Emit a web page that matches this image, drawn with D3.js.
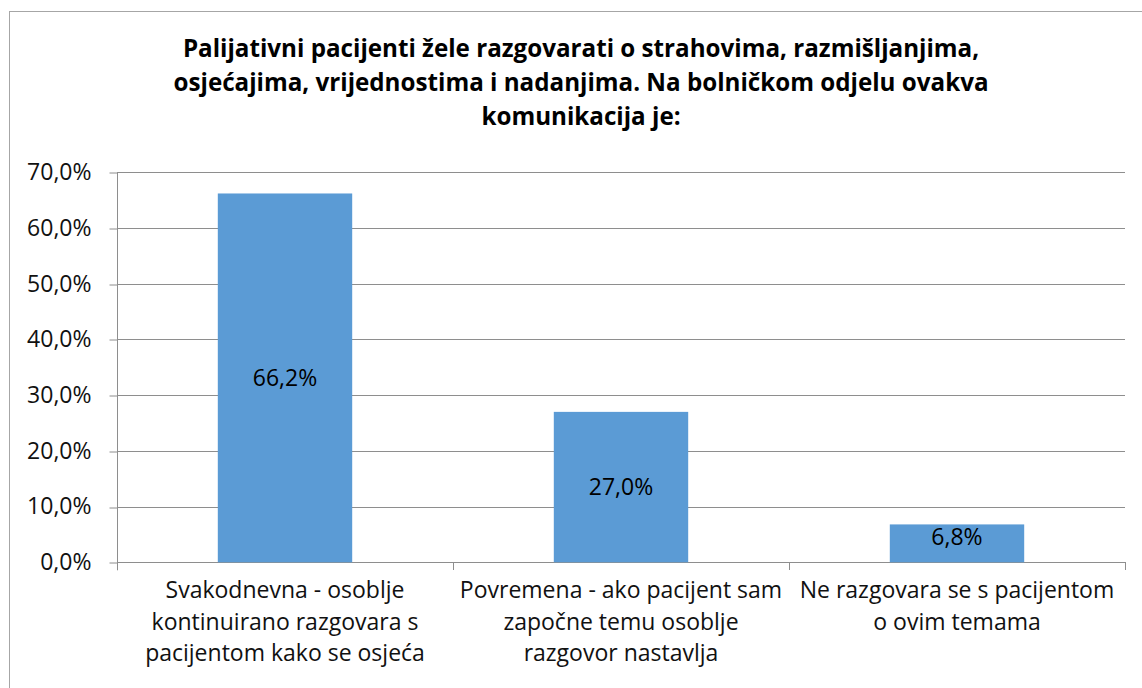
<!DOCTYPE html>
<html>
<head>
<meta charset="utf-8">
<script src="https://cdn.jsdelivr.net/npm/d3@7"></script>
<style>
  html, body { margin: 0; padding: 0; background: #fff; }
  svg { display: block; font-family: "Open Sans", Lato, sans-serif; }
</style>
</head>
<body>
<div id="chart"></div>
<script>
// chart data
const titleLines = [
    "Palijativni pacijenti žele razgovarati o strahovima, razmišljanjima,",
    "osjećajima, vrijednostima i nadanjima. Na bolničkom odjelu ovakva",
    "komunikacija je:"
];
const categories = ["Svakodnevna", "Povremena", "Ne razgovara"];
const categoryLabels = [
    ["Svakodnevna - osoblje", "kontinuirano razgovara s", "pacijentom kako se osjeća"],
    ["Povremena - ako pacijent sam", "započne temu osoblje", "razgovor nastavlja"],
    ["Ne razgovara se s pacijentom", "o ovim temama"]
];
const values = [66.2, 27.0, 6.8];
const yTicks = [0, 10, 20, 30, 40, 50, 60, 70];

const width = 1142, height = 688;
const margin = { top: 172.3, right: 17, bottom: 125.7, left: 117 };

const fmt = v => v.toFixed(1).replace(".", ",") + "%";

const svg = d3.select("#chart")
    .append("svg")
    .attr("width", width)
    .attr("height", height);

// chart border (runs off the right and bottom of the picture)
svg.append("rect")
    .attr("x", 9.5)
    .attr("y", 11.5)
    .attr("width", 1200)
    .attr("height", 800)
    .attr("fill", "none")
    .attr("stroke", "#a6a6a6")
    .attr("stroke-width", 1);

// title
svg.append("text")
    .attr("text-anchor", "middle")
    .attr("font-weight", "bold")
    .attr("font-size", 24.2)
    .attr("fill", "#000")
    .selectAll("tspan")
    .data(titleLines)
    .enter()
    .append("tspan")
    .attr("x", 581)
    .attr("y", (d, i) => 57 + i * 34)
    .text(d => d);

const x = d3.scaleBand()
    .domain(categories)
    .range([margin.left, width - margin.right])
    .paddingInner(0.6)
    .paddingOuter(0.3);

const y = d3.scaleLinear()
    .domain([0, 70])
    .range([height - margin.bottom, margin.top]);

const plotRight = width - margin.right;

// gridlines
svg.append("g")
    .selectAll("line")
    .data(yTicks)
    .enter()
    .append("line")
    .attr("x1", margin.left)
    .attr("x2", plotRight)
    .attr("y1", d => Math.round(y(d)) + 0.5)
    .attr("y2", d => Math.round(y(d)) + 0.5)
    .attr("stroke", "#8e8e8e")
    .attr("stroke-width", 1);

// y axis
const yAxis = svg.append("g")
    .attr("transform", `translate(${margin.left + 0.5},0)`)
    .call(d3.axisLeft(y)
        .tickValues(yTicks)
        .tickSize(8)
        .tickPadding(18)
        .tickFormat(fmt));
yAxis.select(".domain").remove();
yAxis.selectAll(".tick line")
    .attr("stroke", "#8e8e8e")
    .attr("transform", d => `translate(0,${Math.round(y(d)) + 0.5 - y(d)})`);
yAxis.selectAll(".tick text")
    .attr("font-size", 23)
    .attr("font-family", "'Open Sans', sans-serif")
    .attr("fill", "#111");

// vertical axis line
svg.append("line")
    .attr("x1", margin.left + 0.5)
    .attr("x2", margin.left + 0.5)
    .attr("y1", y(70))
    .attr("y2", y(0) + 8)
    .attr("stroke", "#8e8e8e");

// category tick marks at band boundaries
const step = x.step();
const boundaries = [0, 1, 2, 3].map(i => margin.left + i * step);
svg.append("g")
    .selectAll("line")
    .data(boundaries.slice(1))
    .enter()
    .append("line")
    .attr("x1", d => Math.round(d) + 0.5)
    .attr("x2", d => Math.round(d) + 0.5)
    .attr("y1", Math.round(y(0)))
    .attr("y2", Math.round(y(0)) + 8)
    .attr("stroke", "#8e8e8e");

// bars
svg.append("g")
    .selectAll("rect")
    .data(values)
    .enter()
    .append("rect")
    .attr("x", (d, i) => x(categories[i]))
    .attr("y", d => y(d))
    .attr("width", x.bandwidth())
    .attr("height", d => y(0) - y(d))
    .attr("fill", "#5b9bd5");

// data labels in the middle of each bar
svg.append("g")
    .selectAll("text")
    .data(values)
    .enter()
    .append("text")
    .attr("x", (d, i) => x(categories[i]) + x.bandwidth() / 2)
    .attr("y", d => Math.min((y(d) + y(0)) / 2, y(0) - 25) + 8)
    .attr("text-anchor", "middle")
    .attr("font-size", 23)
    .attr("fill", "#000")
    .text(fmt);

// category labels
svg.append("g")
    .selectAll("text")
    .data(categoryLabels)
    .enter()
    .append("text")
    .attr("text-anchor", "middle")
    .attr("font-size", 23)
    .attr("fill", "#111")
    .each(function (lines, i) {
        const cx = x(categories[i]) + x.bandwidth() / 2;
        d3.select(this).selectAll("tspan")
            .data(lines)
            .enter()
            .append("tspan")
            .attr("x", cx)
            .attr("y", (d, j) => 598 + j * 31.5)
            .text(d => d);
    });
</script>
</body>
</html>
